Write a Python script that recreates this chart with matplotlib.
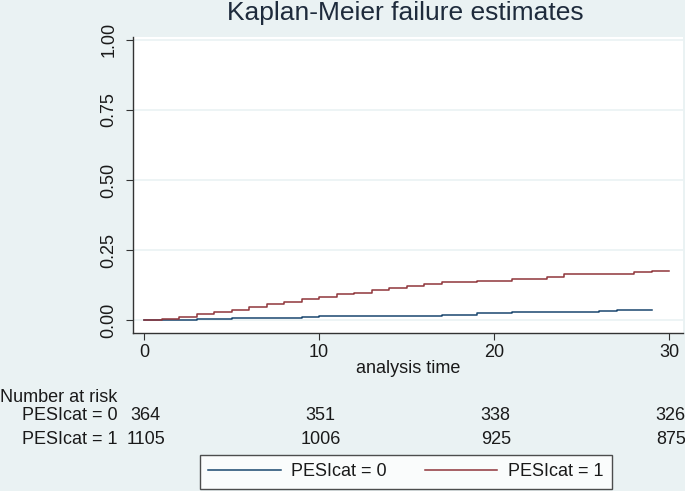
import numpy as np
import matplotlib.pyplot as plt
import matplotlib.transforms as mtransforms

plt.rcParams['font.family'] = ['Liberation Sans', 'DejaVu Sans']

# Kaplan-Meier failure estimates (step functions)
time_0 = [0, 1, 3, 5, 9, 10, 17, 19, 21, 26, 27, 29]
fail_0 = [0, 0.001, 0.004, 0.007, 0.011, 0.015, 0.020, 0.025, 0.030, 0.033, 0.037, 0.037]

time_1 = [0, 1, 2, 3, 4, 5, 6, 7, 8, 9, 10, 11, 12, 13, 14, 15, 16, 17,
          19, 21, 23, 24, 26, 28, 29, 30]
fail_1 = [0, 0.004, 0.012, 0.021, 0.030, 0.038, 0.048, 0.057, 0.066, 0.076,
          0.084, 0.093, 0.099, 0.107, 0.117, 0.123, 0.129, 0.135, 0.139, 0.146,
          0.155, 0.164, 0.167, 0.171, 0.175, 0.175]

risk_times = [0, 10, 20, 30]
risk_0 = [364, 351, 338, 326]
risk_1 = [1105, 1006, 925, 875]
groups = ['PESIcat = 0', 'PESIcat = 1']

bg = '#EAF2F3'
navy = '#1A476F'
maroon = '#90353B'
txt = '#1a1a1a'

fig = plt.figure(figsize=(6.85, 4.91), dpi=100, facecolor=bg)
ax = fig.add_axes([133/685, 1 - 333/491, 550/685, 296/491])
ax.set_facecolor('white')

ax.plot(time_0, fail_0, drawstyle='steps-post', color=navy, lw=1.1, label=groups[0])
ax.plot(time_1, fail_1, drawstyle='steps-post', color=maroon, lw=1.1, label=groups[1])

ax.set_xlim(-0.63, 30.8)
ax.set_ylim(-0.045, 1.01)
ax.set_xticks([0, 10, 20, 30])
ax.set_yticks([0, 0.25, 0.5, 0.75, 1.0])
ax.set_yticklabels(['0.00', '0.25', '0.50', '0.75', '1.00'], rotation=90, va='center')
ax.grid(axis='y', color=bg, lw=1.2)
ax.set_axisbelow(True)
for s in ['top', 'right']:
    ax.spines[s].set_visible(False)
for s in ['left', 'bottom']:
    ax.spines[s].set_color('#333333')
    ax.spines[s].set_linewidth(1.0)
ax.tick_params(length=5, color='#333333', labelsize=13, labelcolor=txt)
ax.tick_params(axis='x', pad=3)
ax.tick_params(axis='y', pad=6)
ax.set_xlabel('analysis time', fontsize=13, color=txt, labelpad=-1)
fig.text(405/685, 1 - 13/491, 'Kaplan-Meier failure estimates', ha='center', va='center',
         fontsize=19, color='#1e2b3c')

# number at risk table
trans = mtransforms.blended_transform_factory(ax.transData, fig.transFigure)
fig.text(0, 1 - 397/491, 'Number at risk', ha='left', va='center', fontsize=13, color=txt)
for row, (name, vals) in enumerate(zip(groups, [risk_0, risk_1])):
    y = 1 - (415 + 24 * row) / 491
    fig.text(22/685, y, name, ha='left', va='center', fontsize=13, color=txt)
    for t, v in zip(risk_times, vals):
        fig.text(t + 0.1, y, str(v), transform=trans, ha='center', va='center',
                 fontsize=13, color=txt, clip_on=False)

leg = fig.legend(loc='center', bbox_to_anchor=(406/685, 1 - 472/491), ncol=2,
                 fontsize=13, frameon=True, fancybox=False, edgecolor='#222222',
                 handlelength=4.0, handletextpad=0.6, columnspacing=2.1,
                 borderpad=0.45, borderaxespad=0)
leg.get_frame().set_linewidth(1.0)
for t in leg.get_texts():
    t.set_color(txt)

fig.savefig('out.png', dpi=100, facecolor=bg)
